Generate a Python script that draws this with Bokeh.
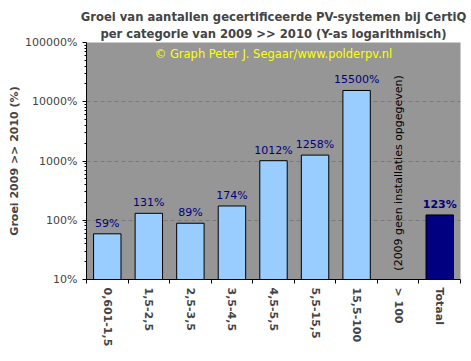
import math
from bokeh.plotting import figure
from bokeh.models import (Range1d, FixedTicker, PrintfTickFormatter, Title, Label,
                          ColumnDataSource)
from bokeh.core.properties import value
from bokeh.embed import file_html
from bokeh.resources import INLINE

# ---- data ----
categories = ["0,601-1,5", "1,5-2,5", "2,5-3,5", "3,5-4,5", "4,5-5,5",
              "5,5-15,5", "15,5-100", "> 100", "Totaal"]
growth_pct = [59, 131, 89, 174, 1012, 1258, 15500, None, 123]
value_labels = ["59%", "131%", "89%", "174%", "1012%", "1258%", "15500%", "", "123%"]
total_category = "Totaal"
y_ticks = [10, 100, 1000, 10000, 100000]
note_text = "(2009 geen installaties opgegeven)"
note_category = "> 100"
note_level = 630
title_line1 = "Groei van aantallen gecertificeerde PV-systemen bij CertiQ"
title_line2 = "per categorie van 2009 >> 2010 (Y-as logarithmisch)"
y_label = "Groei 2009 >> 2010 (%)"
credit = "\u00a9 Graph Peter J. Segaar/www.polderpv.nl"

FONT = "DejaVu Sans"
BAR = "#99CCFF"
TOTAL = "#000080"
LABEL = "#000080"

n = len(categories)
xs = [i + 0.5 for i in range(n)]
y_min, y_max = y_ticks[0], y_ticks[-1]

p = figure(width=468, height=356, output_backend="svg", toolbar_location=None,
           y_axis_type="log", x_range=Range1d(0, n), y_range=Range1d(y_min, y_max),
           min_border_left=86, min_border_right=8, min_border_top=42,
           min_border_bottom=77)
p.background_fill_color = "#969696"
p.border_fill_color = "white"
p.outline_line_color = None

# two-line title (last added is outermost)
p.add_layout(Title(text=title_line2, align="center", text_font=FONT,
                   text_font_size="11.6px", text_font_style="bold", standoff=3,
                   offset=-1), "above")
p.add_layout(Title(text=title_line1, align="center", text_font=FONT,
                   text_font_size="11.6px", text_font_style="bold", standoff=0,
                   offset=-1), "above")

# bars
bx, btop, bcol = [], [], []
for i, (c, v) in enumerate(zip(categories, growth_pct)):
    if v is None:
        continue
    bx.append(xs[i]); btop.append(v)
    bcol.append(TOTAL if c == total_category else BAR)
src = ColumnDataSource(dict(x=bx, top=btop, color=bcol))
p.vbar(x="x", top="top", bottom=y_min, width=0.66, fill_color="color",
       line_color="black", line_width=1, source=src)

# value labels
nx, ny, nt, tx, ty, tt = [], [], [], [], [], []
for i, (c, v, l) in enumerate(zip(categories, growth_pct, value_labels)):
    if v is None:
        continue
    if c == total_category:
        tx.append(xs[i]); ty.append(v); tt.append(l)
    else:
        nx.append(xs[i]); ny.append(v); nt.append(l)
p.text(x=nx, y=ny, text=nt, text_align="center", text_baseline="bottom", y_offset=-4,
       text_font=value(FONT), text_font_size="11px", text_color=LABEL)
p.text(x=tx, y=ty, text=tt, text_align="center", text_baseline="bottom", y_offset=-4,
       text_font=value(FONT), text_font_size="11px", text_font_style="bold",
       text_color=LABEL)

# note in empty category
ni = categories.index(note_category)
p.text(x=[xs[ni]], y=[note_level], text=[note_text], angle=math.pi / 2,
       text_align="center", text_baseline="middle", text_font=value(FONT),
       text_font_size="11px", text_color="black")

# credit
p.add_layout(Label(x=n / 2, y=y_max, y_offset=-11, text=credit, text_align="center",
                   text_baseline="middle", text_font=FONT, text_font_size="11.5px",
                   text_color="#FFFF00"))

# y axis
minor = [m * d for d in y_ticks[:-1] for m in range(2, 10)]
p.yaxis.ticker = FixedTicker(ticks=y_ticks, minor_ticks=minor)
p.yaxis.formatter = PrintfTickFormatter(format="%d%%")
p.yaxis.major_tick_out = 4
p.yaxis.major_tick_in = 0
p.yaxis.minor_tick_out = 2
p.yaxis.minor_tick_in = 0
p.yaxis.major_label_standoff = 5
p.yaxis.major_label_text_font = FONT
p.yaxis.major_label_text_font_size = "11px"
p.yaxis.axis_label = y_label
p.yaxis.axis_label_text_font = FONT
p.yaxis.axis_label_text_font_size = "11px"
p.yaxis.axis_label_text_font_style = "bold"
p.yaxis.axis_label_standoff = 1

p.ygrid.ticker = FixedTicker(ticks=y_ticks[1:-1])
p.ygrid.grid_line_color = "#7a7a7a"
p.ygrid.grid_line_dash = "4 3"
p.xgrid.grid_line_color = None

# x axis: category names at centres, tick marks at category boundaries
p.xaxis.ticker = FixedTicker(ticks=xs, minor_ticks=list(range(n + 1)))
p.xaxis.major_label_overrides = {x: c for x, c in zip(xs, categories)}
p.xaxis.major_tick_line_color = None
p.xaxis.major_tick_out = 4
p.xaxis.major_tick_in = 0
p.xaxis.minor_tick_out = 4
p.xaxis.minor_tick_in = 0
p.xaxis.major_label_orientation = "vertical"
p.xaxis.major_label_standoff = 4
p.xaxis.major_label_text_font = FONT
p.xaxis.major_label_text_font_size = "11px"
p.xaxis.major_label_text_font_style = "bold"

open("out.html", "w").write(file_html(p, INLINE))
